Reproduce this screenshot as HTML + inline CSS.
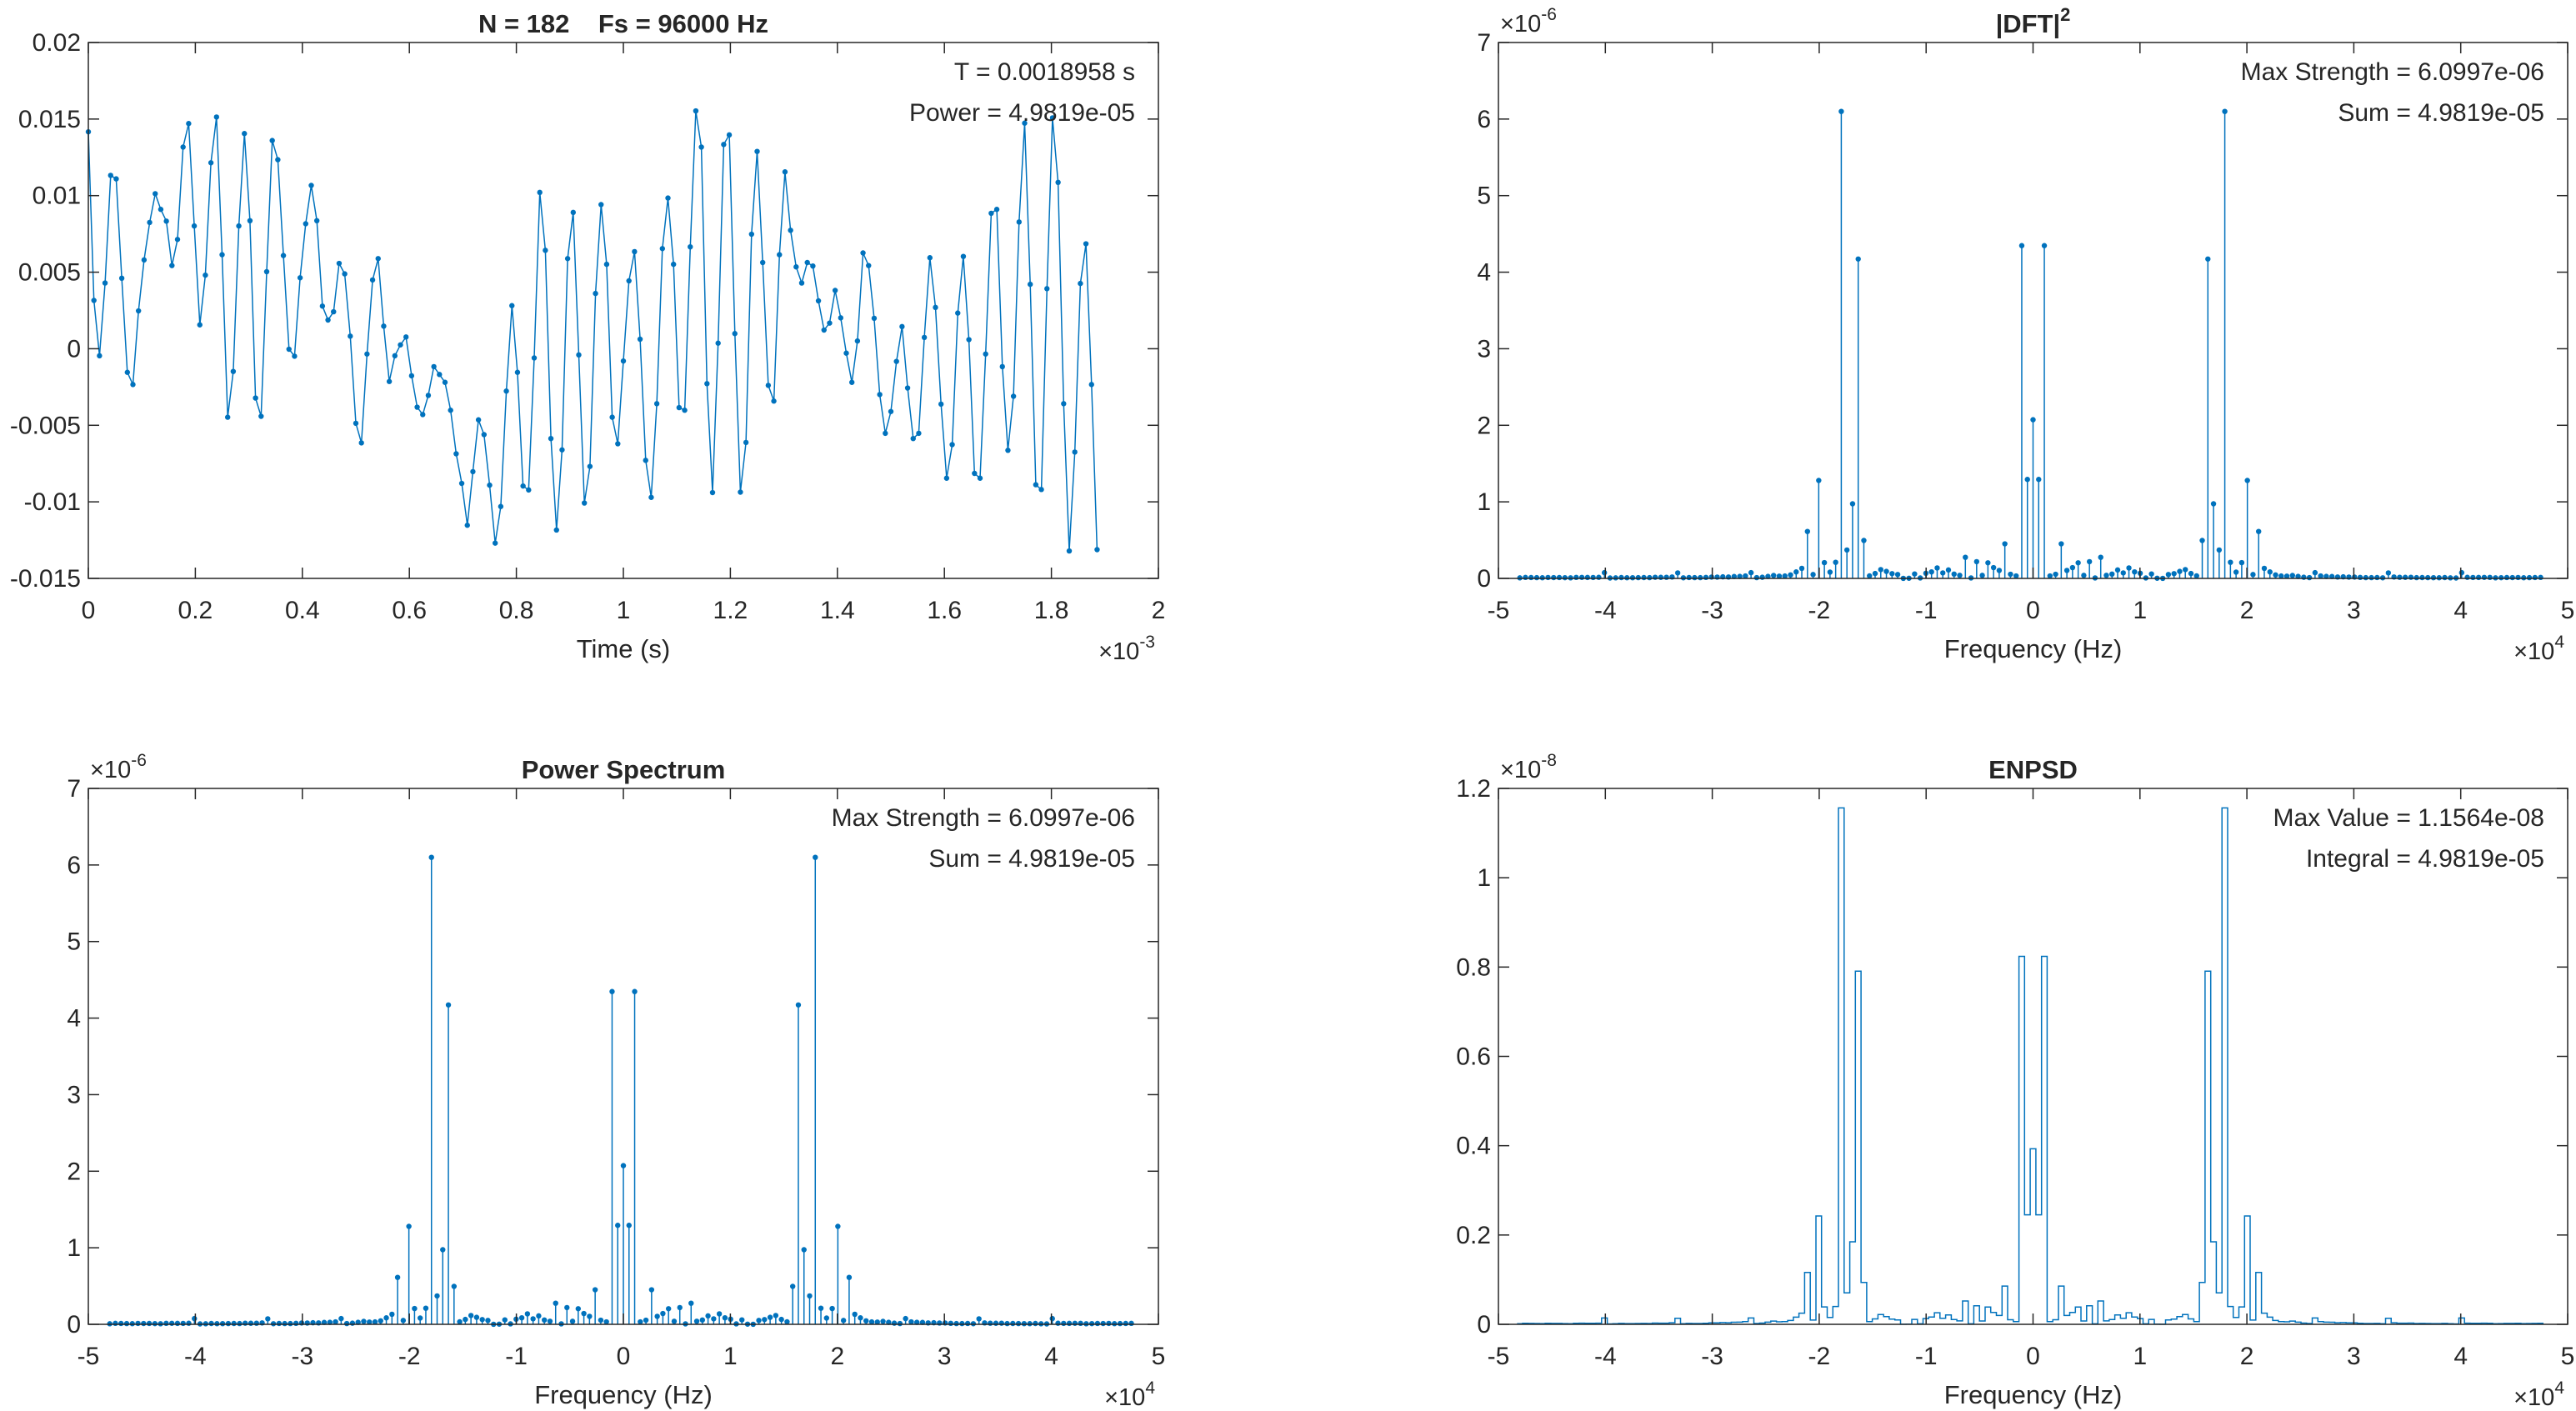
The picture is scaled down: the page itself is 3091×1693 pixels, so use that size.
<!DOCTYPE html>
<html><head><meta charset="utf-8">
<style>
html,body{margin:0;padding:0;background:#fff;}
svg{display:block;}
text{font-family:"Liberation Sans",Arial,sans-serif;fill:#262626;}
</style></head>
<body>
<svg id="s" width="3091" height="1693" viewBox="0 0 3091 1693" xmlns="http://www.w3.org/2000/svg"></svg>
<script>
var Z=[[119,303],[127,690],[135,817],[142,650],[150,403],[157,411],[165,639],[172,855],[180,883],[187,714],[195,597],[202,511],[210,445],[217,481],[225,508],[232,610],[240,550],[247,338],[255,284],[262,519],[270,746],[277,632],[285,374],[292,269],[300,585],[307,958],[315,853],[322,519],[330,307],[337,507],[345,914],[352,956],[360,624],[367,323],[375,367],[382,587],[390,802],[397,818],[405,638],[412,514],[420,426],[427,507],[435,703],[442,735],[450,716],[457,605],[465,629],[472,772],[480,972],[487,1017],[494,813],[502,643],[509,594],[517,749],[524,876],[532,817],[539,792],[547,774],[554,863],[562,935],[569,952],[577,908],[584,842],[592,860],[599,878],[607,942],[614,1042],[622,1110],[629,1206],[637,1083],[644,964],[652,998],[659,1114],[667,1247],[674,1163],[682,898],[689,702],[697,855],[704,1116],[712,1125],[719,822],[727,442],[734,575],[742,1007],[749,1217],[757,1033],[764,594],[772,488],[779,815],[787,1155],[794,1071],[802,674],[809,470],[817,607],[824,958],[832,1019],[839,829],[847,645],[854,578],[862,779],[869,1057],[877,1142],[884,927],[892,571],[899,455],[907,607],[914,936],[921,942],[929,567],[937,255],[944,338],[952,881],[959,1131],[967,788],[974,332],[982,310],[989,766],[997,1130],[1004,1016],[1012,538],[1019,348],[1027,603],[1034,885],[1042,921],[1049,585],[1057,395],[1064,529],[1072,613],[1079,650],[1087,603],[1094,611],[1102,691],[1109,758],[1117,742],[1124,667],[1132,730],[1139,811],[1147,878],[1154,783],[1162,581],[1169,610],[1177,731],[1184,906],[1192,995],[1199,945],[1207,830],[1214,750],[1222,891],[1229,1007],[1237,995],[1244,775],[1252,592],[1259,706],[1267,928],[1274,1098],[1282,1021],[1289,719],[1297,589],[1304,780],[1312,1087],[1319,1098],[1327,813],[1334,490],[1342,481],[1349,842],[1357,1034],[1364,910],[1372,510],[1379,283],[1387,653],[1394,1113],[1402,1124],[1409,663],[1417,271],[1424,419],[1432,927],[1439,1265],[1447,1038],[1454,651],[1462,560],[1469,883],[1477,1262]];
var S=document.getElementById('s'),NS='http://www.w3.org/2000/svg',C='#0072BD',K='#262626';
function el(t,a,txt){var e=document.createElementNS(NS,t);for(var k in a)e.setAttribute(k,a[k]);if(txt!==undefined)e.textContent=txt;S.appendChild(e);return e;}
function axes(o){
 var L=o.L,R=o.R,T=o.T,B=o.B;
 var mx=function(v){return L+(v-o.x0)/(o.x1-o.x0)*(R-L);},my=function(v){return B-(v-o.y0)/(o.y1-o.y0)*(B-T);};
 o.mx=mx;o.my=my;
 el('rect',{x:L,y:T,width:R-L,height:B-T,fill:'#fff',stroke:'none'});
 return o;}
function frame(o){
 var L=o.L,R=o.R,T=o.T,B=o.B,tl=13;
 o.xt.forEach(function(v,i){var x=o.mx(v);el('line',{x1:x,y1:B,x2:x,y2:B-tl,stroke:K,'stroke-width':1.5});el('line',{x1:x,y1:T,x2:x,y2:T+tl,stroke:K,'stroke-width':1.5});
  el('text',{x:x,y:B+48,'font-size':30,'text-anchor':'middle'},o.xl[i]);});
 o.yt.forEach(function(v,i){var y=o.my(v);el('line',{x1:L,y1:y,x2:L+tl,y2:y,stroke:K,'stroke-width':1.5});el('line',{x1:R,y1:y,x2:R-tl,y2:y,stroke:K,'stroke-width':1.5});
  el('text',{x:L-9,y:y+10,'font-size':30,'text-anchor':'end'},o.yl[i]);});
 el('rect',{x:L,y:T,width:R-L,height:B-T,fill:'none',stroke:K,'stroke-width':1.5});
 el('text',{x:(L+R)/2,y:B+95,'font-size':31,'text-anchor':'middle'},o.xlabel);
 var t=el('text',{x:R-4,y:B+97,'font-size':29,'text-anchor':'end'});t.innerHTML='×10<tspan dy="-14" font-size="21">'+o.xexp+'</tspan>';
 if(o.yexp){var u=el('text',{x:L+2,y:T-13,'font-size':29});u.innerHTML='×10<tspan dy="-14" font-size="21">'+o.yexp+'</tspan>';}
 var ti=el('text',{x:(L+R)/2,y:T-12,'font-size':31,'font-weight':'bold','text-anchor':'middle'});ti.innerHTML=o.title;
 el('text',{x:R-28,y:T+45,'font-size':30,'text-anchor':'end'},o.a1);
 el('text',{x:R-28,y:T+94,'font-size':30,'text-anchor':'end'},o.a2);
}
function rng(a,b,s){var r=[];for(var v=a;v<=b+1e-12;v+=s)r.push(+v.toFixed(10));return r;}
var data=Z.map(function(p){return 0.02-(p[1]-98)/35143;});
var N=data.length,Fs=96000;
var A=axes({L:106,R:1390,T:51,B:694,x0:0,x1:0.002,y0:-0.015,y1:0.02});
var pts=Z.map(function(p,i){return [A.mx(i/Fs),A.my(data[i])];});
el('polyline',{points:pts.map(function(p){return p[0].toFixed(1)+','+p[1].toFixed(1)}).join(' '),fill:'none',stroke:C,'stroke-width':1.5});
pts.forEach(function(p){el('circle',{cx:p[0],cy:p[1],r:3.2,fill:C});});
A.xt=rng(0,0.002,0.0002);A.xl=['0','0.2','0.4','0.6','0.8','1','1.2','1.4','1.6','1.8','2'];
A.yt=rng(-0.015,0.02,0.005);A.yl=['-0.015','-0.01','-0.005','0','0.005','0.01','0.015','0.02'];
A.xlabel='Time (s)';A.xexp='-3';A.title='N = 182&#160;&#160;&#160;&#160;Fs = 96000 Hz';A.a1='T = 0.0018958 s';A.a2='Power = 4.9819e-05';
frame(A);
var P=[],F=[];
for(var k=-N/2;k<N/2;k++){var re=0,im=0;for(var n=0;n<N;n++){var ang=-2*Math.PI*k*n/N;re+=data[n]*Math.cos(ang);im+=data[n]*Math.sin(ang);}P.push((re*re+im*im)/(N*N));F.push(k*Fs/N);}
var mxP=Math.max.apply(null,P),sc=6.0997e-6/mxP;
P=P.map(function(v){return v*sc;});
var fx=rng(-50000,50000,10000),fl=['-5','-4','-3','-2','-1','0','1','2','3','4','5'];
function stemPlot(o){
 for(var i=0;i<N;i++){var x=o.mx(F[i]),y=o.my(P[i]*1e6);el('line',{x1:x,y1:o.B,x2:x,y2:y,stroke:C,'stroke-width':1.5});el('circle',{cx:x,cy:y,r:3.2,fill:C});}
 o.xt=fx;o.xl=fl;o.yt=rng(0,7,1);o.yl=['0','1','2','3','4','5','6','7'];o.xlabel='Frequency (Hz)';o.xexp='4';o.yexp='-6';
 o.a1='Max Strength = 6.0997e-06';o.a2='Sum = 4.9819e-05';frame(o);}
var B1=axes({L:1798,R:3081,T:51,B:694,x0:-50000,x1:50000,y0:0,y1:7});B1.title='|DFT|<tspan dy="-14" font-size="22">2</tspan>';stemPlot(B1);
var B2=axes({L:106,R:1390,T:946,B:1589,x0:-50000,x1:50000,y0:0,y1:7});B2.title='Power Spectrum';stemPlot(B2);
var D=axes({L:1798,R:3081,T:946,B:1589,x0:-50000,x1:50000,y0:0,y1:1.2});
var df=Fs/N,d='';
for(var i=0;i<N;i++){var v=P[i]*N/Fs*1e8,y=D.my(v),x0=D.mx(F[i]-df/2),x1=D.mx(F[i]+df/2);d+=(i?'L':'M')+x0.toFixed(1)+','+y.toFixed(1)+'L'+x1.toFixed(1)+','+y.toFixed(1);}
el('path',{d:d,fill:'none',stroke:C,'stroke-width':1.5});
D.xt=fx;D.xl=fl;D.yt=rng(0,1.2,0.2);D.yl=['0','0.2','0.4','0.6','0.8','1','1.2'];D.xlabel='Frequency (Hz)';D.xexp='4';D.yexp='-8';
D.title='ENPSD';D.a1='Max Value = 1.1564e-08';D.a2='Integral = 4.9819e-05';frame(D);
</script>
</body></html>
